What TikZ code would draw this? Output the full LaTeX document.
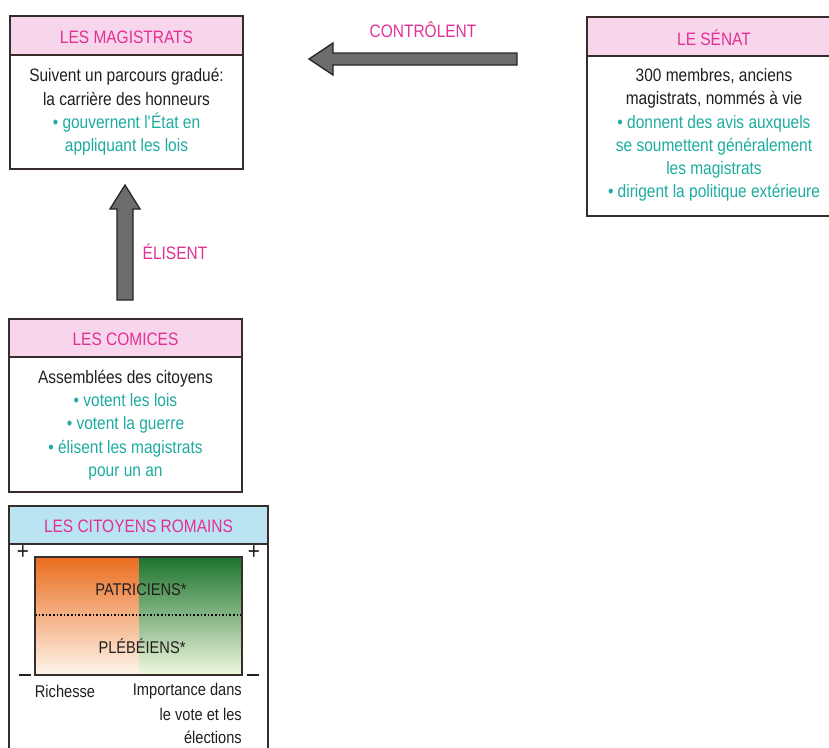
\documentclass[tikz,border=0pt]{standalone}
\usepackage{fontspec}
\setmainfont{Liberation Sans}[FakeStretch=0.86]
\definecolor{headpink}{RGB}{247,214,236}
\definecolor{headblue}{RGB}{186,228,242}
\definecolor{magent}{RGB}{226,48,150}
\definecolor{tealtxt}{RGB}{30,172,160}
\definecolor{inkc}{RGB}{35,30,30}
\definecolor{framec}{RGB}{55,45,45}
\definecolor{arrowgray}{RGB}{108,108,108}
\definecolor{orTop}{RGB}{234,108,30}
\definecolor{orMid}{RGB}{246,185,120}
\definecolor{orBot}{RGB}{254,246,236}
\definecolor{grTop}{RGB}{28,116,46}
\definecolor{grMid}{RGB}{105,172,88}
\definecolor{grBot}{RGB}{240,248,222}
\tikzset{
  frame/.style={draw=framec, line width=1.4pt},
  headtxt/.style={text=magent, font=\fontsize{18}{22}\selectfont, inner sep=0pt},
  bodytxt/.style={text=inkc, font=\fontsize{18}{23.3}\selectfont, align=center, inner sep=0pt},
  smalltxt/.style={text=inkc, font=\fontsize{17}{23.3}\selectfont, inner sep=0pt},
  signtxt/.style={text=inkc, font=\fontsize{24}{24}\selectfont, inner sep=0pt},
  blockarrow/.style={fill=arrowgray, draw=black!85, line width=1.3pt, line join=miter},
}
\newcommand{\tl}[1]{\textcolor{tealtxt}{#1}}
\begin{document}
\begin{tikzpicture}[x=1pt,y=-1pt]
\useasboundingbox (0,0) rectangle (829,747);
\fill[white] (0,0) rectangle (829,747);

% ---------- LES MAGISTRATS ----------
\fill[headpink] (10,16) rectangle (243,55);
\draw[frame] (10,16) rectangle (243,169);
\draw[frame] (10,55) -- (243,55);
\node[headtxt] (magh) at (126.5,37) {LES MAGISTRATS};
\node[bodytxt] (magb) at (126.5,112) {Suivent un parcours gradué:\\la carrière des honneurs\\\tl{• gouvernent l\textquotesingle État en}\\\tl{appliquant les lois}};

% ---------- LE SENAT ----------
\fill[headpink] (587,17) rectangle (841,56);
\draw[frame] (841,17) -- (587,17) -- (587,216) -- (841,216);
\draw[frame] (587,56) -- (841,56);
\node[headtxt] (senh) at (714,38) {LE SÉNAT};
\node[bodytxt] (senb) at (714,135) {300 membres, anciens\\magistrats, nommés à vie\\\tl{• donnent des avis auxquels}\\\tl{se soumettent généralement}\\\tl{les magistrats}\\\tl{• dirigent la politique extérieure}};

% ---------- CONTROLENT arrow ----------
\coordinate (ctip) at (309,59);
\draw[blockarrow] (ctip) -- (333,43) -- (333,53) -- (517,53) -- (517,65) -- (333,65) -- (333,75) -- cycle;
\node[headtxt] (ctl) at (423,30) {CONTRÔLENT};

% ---------- LES COMICES ----------
\fill[headpink] (9,319) rectangle (242,357);
\draw[frame] (9,319) rectangle (242,492);
\draw[frame] (9,357) -- (242,357);
\node[headtxt] (comh) at (125.5,339) {LES COMICES};
\node[bodytxt] (comb) at (125.5,425) {Assemblées des citoyens\\\tl{• votent les lois}\\\tl{• votent la guerre}\\\tl{• élisent les magistrats}\\\tl{pour un an}};

% ---------- ELISENT arrow ----------
\coordinate (etip) at (125,185);
\draw[blockarrow] (etip) -- (140,209) -- (133,209) -- (133,300) -- (117,300) -- (117,209) -- (110,209) -- cycle;
\node[headtxt] (eli) at (175,252) {ÉLISENT};

% ---------- LES CITOYENS ROMAINS ----------
\fill[headblue] (9,506) rectangle (268,544);
\draw[frame] (9,760) -- (9,506) -- (268,506) -- (268,760);
\draw[frame] (9,544) -- (268,544);
\node[headtxt] (cith) at (138.5,526) {LES CITOYENS ROMAINS};

% inner chart
\shade[top color=orTop, middle color=orMid, bottom color=orBot] (35,557) rectangle (139,675);
\shade[top color=grTop, middle color=grMid, bottom color=grBot] (139,557) rectangle (242,675);
\draw[black, line width=1.6pt, dotted] (35,615) -- (242,615);
\draw[framec, line width=1.4pt] (35,557) rectangle (242,675);
\node[smalltxt] (pat) at (141,590) {PATRICIENS*};
\node[smalltxt] (ple) at (142,646) {PLÉBÉIENS*};

\node[signtxt] (p1) at (23,553) {+};
\node[signtxt] (p2) at (254,553) {+};
\draw[inkc, line width=1.4pt] (19,675) coordinate (m1a) -- (31,675) coordinate (m1b);
\draw[inkc, line width=1.4pt] (247,675) coordinate (m2a) -- (259,675) coordinate (m2b);

\node[smalltxt] (rich) at (65,691) {Richesse};
\node[smalltxt, anchor=east] (imp1) at (242,691) {Importance dans};
\node[smalltxt, anchor=east] (imp2) at (242,714) {le vote et les};
\node[smalltxt, anchor=east] (imp3) at (242,737) {élections};
\end{tikzpicture}
\end{document}
